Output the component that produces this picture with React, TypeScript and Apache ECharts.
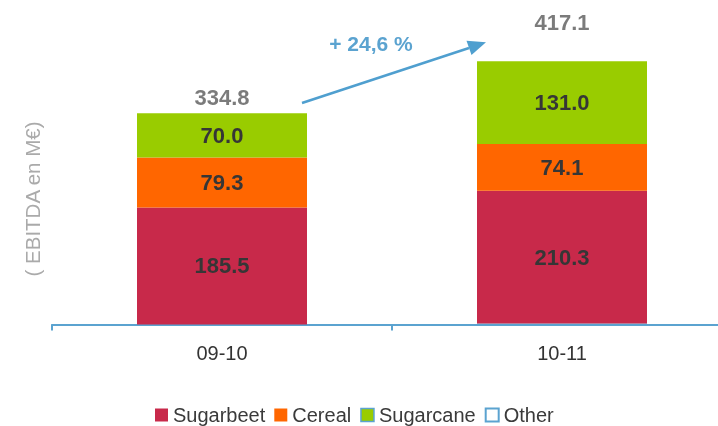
import React, { useEffect, useRef } from "react";
import * as echarts from "echarts";

const categories = ["09-10", "10-11"];
const sugarbeet = [185.5, 210.3];
const cereal = [79.3, 74.1];
const sugarcane = [70.0, 131.0];
const other = [-3.0, 1.7];
const totals = [334.8, 417.1];
const growthLabel = "+ 24,6 %";
const yAxisTitle = "( EBITDA en M€)";

const FONT = "'Liberation Sans', Arial, Helvetica, sans-serif";
const BLUE = "#5BA3D0";
const totalGaps = [5, 28];

export default function App() {
  const ref = useRef<HTMLDivElement>(null);
  useEffect(() => {
    if (!ref.current) return;
    const chart = echarts.init(ref.current, undefined, { renderer: "svg" });
    const segLabel = {
      show: true,
      position: "inside",
      fontFamily: FONT,
      fontSize: 22,
      fontWeight: "bold",
      color: "#363636",
      formatter: (p: any) => Number(p.value).toFixed(1),
    };
    chart.setOption({
      animation: false,
      textStyle: { fontFamily: FONT },
      grid: { left: 52, right: 0, top: 9, bottom: 101.5 },
      legend: {
        left: 150,
        top: 400,
        itemWidth: 13,
        itemHeight: 13,
        itemGap: 9,
        icon: "rect",
        textStyle: { fontFamily: FONT, fontSize: 20, color: "#3a3a3a", lineHeight: 20 },
        data: [
          { name: "Sugarbeet" },
          { name: "Cereal" },
          { name: "Sugarcane", itemStyle: { borderColor: BLUE, borderWidth: 1.5 } },
          { name: "Other", itemStyle: { color: "#ffffff", borderColor: BLUE, borderWidth: 2 } },
        ],
      },
      xAxis: {
        type: "category",
        data: categories,
        axisLine: { lineStyle: { color: BLUE, width: 2 } },
        axisTick: { show: true, length: 6, lineStyle: { color: BLUE, width: 2 } },
        axisLabel: { fontFamily: FONT, fontSize: 20, color: "#333333", margin: 18 },
      },
      yAxis: {
        type: "value",
        min: 0,
        max: 500,
        axisLine: { show: false },
        axisTick: { show: false },
        axisLabel: { show: false },
        splitLine: { show: false },
      },
      series: [
        {
          name: "Other",
          type: "bar",
          stack: "ebitda",
          barWidth: "50%",
          data: other,
          itemStyle: { color: BLUE },
        },
        {
          name: "Sugarbeet",
          type: "bar",
          stack: "ebitda",
          barWidth: "50%",
          data: sugarbeet,
          itemStyle: { color: "#C8294A" },
          label: segLabel,
        },
        {
          name: "Cereal",
          type: "bar",
          stack: "ebitda",
          barWidth: "50%",
          data: cereal,
          itemStyle: { color: "#FF6600" },
          label: segLabel,
        },
        {
          name: "Sugarcane",
          type: "bar",
          stack: "ebitda",
          barWidth: "50%",
          data: sugarcane,
          itemStyle: { color: "#99CC00" },
          label: segLabel,
        },
        {
          name: "Total",
          type: "scatter",
          symbolSize: 0,
          data: totals.map((v, i) => ({
            value: v,
            label: { distance: totalGaps[i] },
          })),
          label: {
            show: true,
            position: "top",
            fontFamily: FONT,
            fontSize: 22,
            fontWeight: "bold",
            color: "#5a5a5a",
            formatter: (p: any) => Number(p.value).toFixed(1),
          },
        },
      ],
      graphic: [
        {
          type: "line",
          shape: { x1: 302, y1: 103, x2: 469, y2: 48 },
          style: { stroke: "#4F9FCF", lineWidth: 2.5 },
        },
        {
          type: "polygon",
          shape: { points: [[486, 42.3], [471.5, 55], [466.5, 40.8]] },
          style: { fill: "#4F9FCF" },
        },
        {
          type: "text",
          x: 371,
          y: 43,
          style: {
            text: growthLabel,
            fontFamily: FONT,
            fontSize: 21,
            fontWeight: "bold",
            fill: BLUE,
            textAlign: "center",
            textVerticalAlign: "middle",
          },
        },
        {
          type: "text",
          x: 32,
          y: 199,
          rotation: Math.PI / 2,
          style: {
            text: yAxisTitle,
            fontFamily: FONT,
            fontSize: 20.5,
            fill: "#AAAAAA",
            textAlign: "center",
            textVerticalAlign: "middle",
          },
        },
      ],
    });
    return () => chart.dispose();
  }, []);
  return (
    <div
      style={{
        position: "fixed",
        left: 0,
        top: 0,
        width: 718,
        height: 426,
        overflow: "hidden",
      }}
    >
      <div ref={ref} style={{ width: 732, height: 426 }} />
    </div>
  );
}
